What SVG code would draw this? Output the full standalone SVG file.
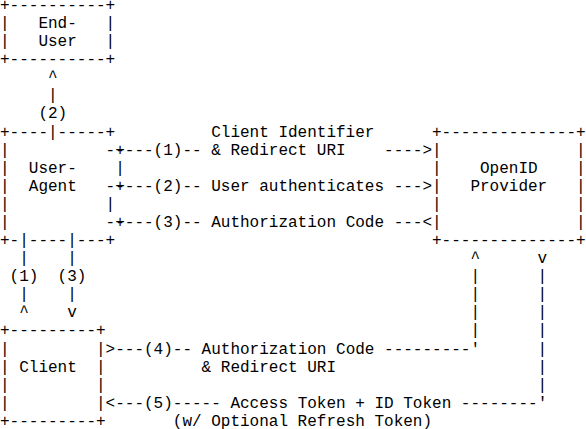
<svg xmlns="http://www.w3.org/2000/svg" width="586" height="429" viewBox="0 0 586 429" xml:space="preserve">
  <style>
    text { font-family: "Liberation Mono", "Courier New", monospace; font-size: 16px; fill: #000; white-space: pre; }
  </style>
  <rect width="586" height="429" fill="#fff"/>

  <!-- End-User -->
  <g id="end-user">
    <text x="0" y="10">+----------+</text>
    <text x="0" y="28.08">|   End-   |</text>
    <text x="0" y="46.16">|   User   |</text>
    <text x="0" y="64.24">+----------+</text>
  </g>

  <!-- User-Agent -->
  <g id="user-agent">
    <text x="0" y="136.56">+----|-----+</text>
    <text x="0" y="154.64">|          -+</text>
    <text x="0" y="172.72">|  User-    |</text>
    <text x="0" y="190.8">|  Agent   -+</text>
    <text x="0" y="208.88">|          |</text>
    <text x="0" y="226.96">|          -+</text>
    <text x="0" y="245.04">+-|----|---+</text>
  </g>

  <!-- OpenID Provider -->
  <g id="openid-provider">
    <text x="432" y="136.56">+--------------+</text>
    <text x="432" y="154.64">|              |</text>
    <text x="432" y="172.72">|    OpenID    |</text>
    <text x="432" y="190.8">|   Provider   |</text>
    <text x="432" y="208.88">|              |</text>
    <text x="432" y="226.96">|              |</text>
    <text x="432" y="245.04">+--------------+</text>
  </g>

  <!-- Client -->
  <g id="client">
    <text x="0" y="335.44">+---------+</text>
    <text x="0" y="353.52">|         |</text>
    <text x="0" y="371.6">| Client  |</text>
    <text x="0" y="389.68">|         |</text>
    <text x="0" y="407.76">|         |</text>
    <text x="0" y="425.84">+---------+</text>
  </g>

  <!-- Flows between the parties -->
  <g id="connectors">
    <!-- (2) User-Agent to End-User -->
    <text x="48" y="82.32">^</text>
    <text x="48" y="100.4">|</text>
    <text x="38.4" y="118.48">(2)</text>

    <!-- (1)-(3) User-Agent and OpenID Provider -->
    <text x="211.2" y="136.56">Client Identifier</text>
    <text x="115.2" y="154.64">----(1)-- &amp; Redirect URI    ----&gt;</text>
    <text x="115.2" y="190.8">----(2)-- User authenticates ---&gt;</text>
    <text x="115.2" y="226.96">----(3)-- Authorization Code ---&lt;</text>

    <!-- (1)/(3) User-Agent and Client -->
    <text x="19.2" y="263.12">|    |</text>
    <text x="9.6" y="281.2">(1)  (3)</text>
    <text x="19.2" y="299.28">|    |</text>
    <text x="19.2" y="317.36">^    v</text>

    <!-- (4) Client to OpenID Provider -->
    <text x="470.4" y="263.12">^</text>
    <text x="470.4" y="281.2">|</text>
    <text x="470.4" y="299.28">|</text>
    <text x="470.4" y="317.36">|</text>
    <text x="470.4" y="335.44">|</text>
    <text x="105.6" y="353.52">&gt;---(4)-- Authorization Code ---------'</text>
    <text x="201.6" y="371.6">&amp; Redirect URI</text>

    <!-- (5) OpenID Provider to Client -->
    <text x="537.6" y="263.12">v</text>
    <text x="537.6" y="281.2">|</text>
    <text x="537.6" y="299.28">|</text>
    <text x="537.6" y="317.36">|</text>
    <text x="537.6" y="335.44">|</text>
    <text x="537.6" y="353.52">|</text>
    <text x="537.6" y="371.6">|</text>
    <text x="537.6" y="389.68">|</text>
    <text x="105.6" y="407.76">&lt;---(5)----- Access Token + ID Token --------'</text>
    <text x="172.8" y="425.84">(w/ Optional Refresh Token)</text>
  </g>
</svg>
